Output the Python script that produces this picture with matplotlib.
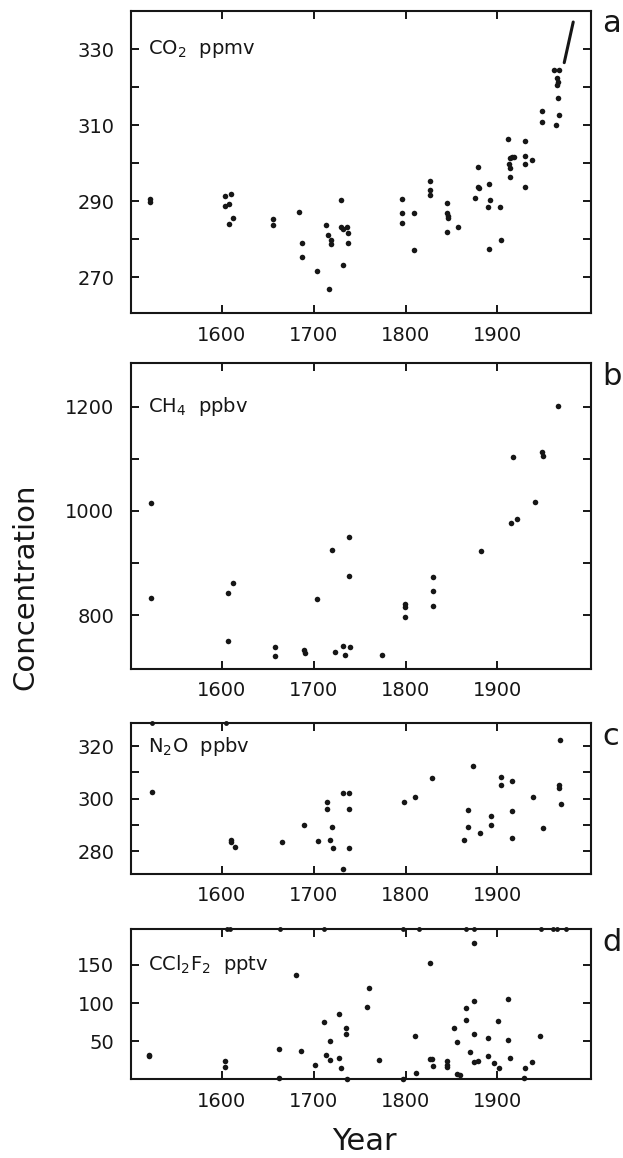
import matplotlib.pyplot as plt

plt.rcParams['font.family'] = 'DejaVu Sans'
plt.rcParams['mathtext.default'] = 'regular'

ink = '#161616'

# ---- data ----
# a: CO2 (ppmv)
co2_year = [1522, 1522, 1603.5, 1609.6, 1603.5, 1607.8, 1612.2, 1608, 1655.4, 1655.4,
            1683.7, 1687.3, 1687.3, 1703.7, 1713.1, 1715.6, 1719.3, 1719.3, 1716.8,
            1729.4, 1730.2, 1731.5, 1736.4, 1737.4, 1737.4, 1731.6,
            1796.6, 1796.6, 1796.3, 1808.9, 1808.9, 1827.1, 1826.7, 1826.7,
            1844.9, 1844.9, 1846, 1846, 1845.2, 1857.6,
            1879.1, 1878.4, 1880.1, 1876.1, 1891.4, 1892.1, 1889.6, 1890.7,
            1903.0, 1903.4, 1911.7, 1913.5, 1916, 1918.2, 1913.1, 1913.5, 1914.2,
            1930.6, 1930.3, 1930.3, 1937.9, 1930.3, 1948.4, 1948.1,
            1961.9, 1966.9, 1964.4, 1966.2, 1964.4, 1966.2, 1966.6, 1964.0]
co2_val = [290.7, 289.8, 291.5, 292.0, 288.9, 289.4, 285.5, 284.1, 285.4, 283.7,
           287.2, 279.0, 275.3, 271.7, 283.7, 281.2, 279.7, 278.8, 267.0,
           290.4, 283.3, 282.8, 283.3, 281.7, 278.9, 273.2,
           290.7, 286.9, 284.4, 286.8, 277.1, 295.4, 293.0, 291.6,
           289.6, 286.8, 286.1, 285.5, 282.0, 283.3,
           299.0, 293.8, 293.4, 290.8, 294.6, 290.3, 288.5, 277.5,
           288.5, 279.9, 306.5, 301.5, 301.7, 301.7, 299.7, 298.9, 296.3,
           305.9, 302.0, 299.9, 301.0, 293.8, 313.9, 311.0,
           324.6, 324.6, 322.5, 321.4, 320.5, 317.1, 312.8, 310.1]
mlo_year = [1972.8, 1977.2, 1982.6]
mlo_val = [326.5, 331.3, 337.2]

# b: CH4 (ppbv)
ch4_year = [1522.3, 1523, 1606.5, 1612, 1606.5, 1657.8, 1657.8, 1689.4, 1690.3, 1704,
            1719.8, 1722.9, 1732.4, 1733.7, 1739, 1738, 1738.5, 1774,
            1799.7, 1799.7, 1799.7, 1830, 1830, 1830, 1881.8,
            1917.4, 1915.2, 1921, 1941, 1948.7, 1949.5, 1966]
ch4_val = [1016, 832, 841.5, 861, 749.5, 739, 722, 733, 726.5, 830.7,
           925, 729.7, 741, 723, 738, 950.8, 875.4, 723,
           821, 816, 795.5, 874, 845.4, 818, 922.7,
           1104, 977.6, 985, 1017, 1113, 1105, 1201]

# c: N2O (ppbv)
n2o_year = [1523.6, 1609.5, 1610.2, 1613.8, 1665.1, 1689.1, 1704.7, 1714.2, 1714.2,
            1717.5, 1720, 1721.1, 1731.6, 1738.2, 1738.2, 1738.5, 1731.6,
            1798.5, 1810.5, 1828.7, 1863.6, 1867.6, 1868, 1873.5, 1881.1,
            1893.5, 1893.5, 1904.4, 1903.6, 1916, 1915.6, 1916.4, 1938.9,
            1949.8, 1968.4, 1967.3, 1967.3, 1969.1]
n2o_val = [302.7, 284.3, 283.4, 281.8, 283.7, 290.1, 283.8, 298.9, 295.9,
           284.2, 289.4, 281.4, 302.2, 302.0, 295.9, 281.2, 273.1,
           298.7, 300.5, 307.8, 284.3, 295.7, 289.4, 312.4, 286.8,
           293.5, 290.0, 308.4, 305.1, 306.8, 295.4, 285.1, 300.7,
           288.9, 322.5, 305.2, 304.0, 297.9]
n2o_offscale_year = [1523.6, 1604.7]

# d: CCl2F2 (pptv)
f12_year = [1520.4, 1520.4, 1602.9, 1602.9, 1661.8, 1662, 1681, 1685.8, 1701.8,
            1711.3, 1713.8, 1717.5, 1717.5, 1727.3, 1727.6, 1729.5, 1735, 1735, 1736,
            1760.1, 1758.4, 1771.5, 1797, 1810, 1811.7, 1827, 1826.9, 1829, 1829.4,
            1844.8, 1844.8, 1844.8, 1852.7, 1855.5, 1856, 1859.8,
            1865.5, 1865.5, 1870, 1875, 1874.7, 1874.7, 1874.7, 1878.6,
            1889.7, 1890, 1896.4, 1900.7, 1901.4, 1911.7, 1911.7, 1913.2,
            1929.9, 1929.2, 1937.4, 1945.9]
f12_val = [32.6, 30.4, 24.8, 16.1, 39.6, 2, 137, 37.8, 18.7,
           75.7, 32.6, 26.1, 50, 85.7, 28.3, 14.8, 67.4, 60, 1.5,
           120, 94.4, 25.5, 1, 57.5, 8.7, 152, 26.9, 26.9, 18.6,
           24, 19.7, 16.2, 67.5, 48.7, 7.9, 6.1,
           93, 78, 35.6, 103, 59.6, 23.2, 178.5, 25,
           54.8, 30.7, 21.9, 76.8, 15.4, 104.8, 51.8, 28.5,
           15, 2, 23.2, 57.5]
f12_offscale_year = [1605.5, 1609, 1663, 1711, 1797, 1815, 1865.5, 1875,
                     1948, 1961, 1965, 1975]

years_tick = [1600, 1700, 1800, 1900]

panels = [
    # rect, ylim, yticks, labelled ticks, label, letter
    ([0.2103, 0.7297, 0.7384, 0.2608], (260.6, 340.1), [270, 280, 290, 300, 310, 320, 330],
     [270, 290, 310, 330], r'CO$_2$  ppmv', 'a'),
    ([0.2103, 0.4223, 0.7384, 0.2642], (696.5, 1284), [800, 900, 1000, 1100, 1200],
     [800, 1000, 1200], r'CH$_4$  ppbv', 'b'),
    ([0.2103, 0.2453, 0.7384, 0.1304], (271.4, 328.8), [280, 290, 300, 310, 320],
     [280, 300, 320], r'N$_2$O  ppbv', 'c'),
    ([0.2103, 0.0682, 0.7384, 0.1295], (1, 196.5), [50, 100, 150],
     [50, 100, 150], r'CCl$_2$F$_2$  pptv', 'd'),
]
series = [(co2_year, co2_val), (ch4_year, ch4_val), (n2o_year, n2o_val), (f12_year, f12_val)]

fig = plt.figure(figsize=(6.23, 11.58), dpi=100)
fig.patch.set_facecolor('white')

axes = []
for (rect, ylim, yt, ylab, label, letter), (xs, ys) in zip(panels, series):
    ax = fig.add_axes(rect)
    ax.plot(xs, ys, 'o', ms=4, color=ink, mec='none', clip_on=False, zorder=3)
    ax.set_xlim(1501, 2002)
    ax.set_ylim(*ylim)
    ax.set_xticks(years_tick)
    ax.set_xticklabels([str(y) for y in years_tick])
    ax.set_yticks(yt)
    ax.set_yticklabels([str(v) if v in ylab else '' for v in yt])
    ax.tick_params(direction='in', top=True, right=True, length=6, width=1.4,
                   labelsize=14, color=ink, labelcolor=ink)
    ax.tick_params(axis='y', pad=12)
    ax.tick_params(axis='x', pad=9)
    for s in ax.spines.values():
        s.set_linewidth(1.5)
        s.set_color(ink)
    ax.text(1520, ylab[-1], label, fontsize=14, va='center', ha='left', color=ink)
    ax.text(1.025, 1.005, letter, transform=ax.transAxes, fontsize=22,
            va='top', ha='left', color=ink)
    axes.append(ax)

# recent record drawn as a line in panel a
axes[0].plot(mlo_year, mlo_val, '-', lw=2.2, color=ink, solid_capstyle='round')

# off-scale samples sit on the top frame
axes[2].plot(n2o_offscale_year, [328.8] * len(n2o_offscale_year), 'o', ms=3.5,
             color=ink, mec='none', clip_on=False, zorder=3)
axes[3].plot(f12_offscale_year, [196.5] * len(f12_offscale_year), 'o', ms=3.5,
             color=ink, mec='none', clip_on=False, zorder=3)

fig.text(0.040, 1 - 587 / 1158, 'Concentration', rotation=90, fontsize=21,
         ha='center', va='center', color=ink)
fig.text(364 / 623, 1 - 1141 / 1158, 'Year', fontsize=22, ha='center', va='center', color=ink)

fig.savefig('out.png', dpi=100, facecolor='white')
